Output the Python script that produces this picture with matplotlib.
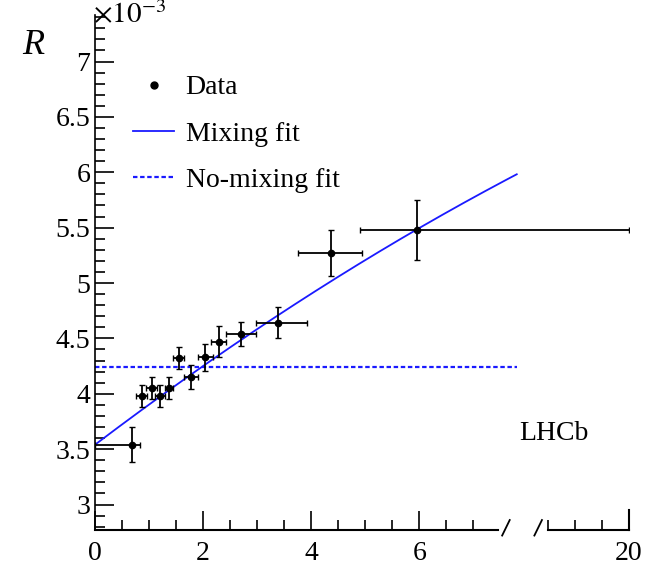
import numpy as np
import matplotlib.pyplot as plt
from matplotlib.ticker import FixedLocator
from matplotlib.lines import Line2D

plt.rcParams['font.family'] = ['Liberation Serif', 'DejaVu Serif']
plt.rcParams['mathtext.fontset'] = 'stix'

# data: decay time bins (t/tau) and ratio R (x 1e-3)
x = [0.68, 0.86, 1.05, 1.21, 1.37, 1.55, 1.77, 2.04, 2.29, 2.70, 3.38, 4.36, 5.95]
y = [3.54, 3.98, 4.05, 3.98, 4.05, 4.32, 4.15, 4.33, 4.47, 4.54, 4.64, 5.27, 5.48]
xlo = [0.68, 0.10, 0.10, 0.10, 0.08, 0.10, 0.12, 0.14, 0.14, 0.28, 0.40, 0.60, 1.05]
xhi = [0.15, 0.10, 0.10, 0.08, 0.08, 0.10, 0.14, 0.14, 0.14, 0.28, 0.55, 0.58, 14.05]
yerr = [0.16, 0.10, 0.10, 0.10, 0.10, 0.10, 0.11, 0.12, 0.14, 0.11, 0.14, 0.21, 0.27]
mix_coef = [3.54, 0.37, -0.0073]
nomix = 4.24
fit_end = 7.8

# broken axis mapping: [0, 7.45] shown as is, gap, then [18.5, 20]
L, G, R0 = 7.45, 0.926, 18.5
def tx(v):
    v = np.asarray(v, dtype=float)
    return np.where(v <= L, v, np.where(v >= R0, L + G + (v - R0), L + (v - L) * G / (R0 - L)))

fig = plt.figure(figsize=(6.47, 5.72), dpi=100)
ax = fig.add_axes([95/647, 1 - 530/572, 534/647, 515/572])

xs = np.linspace(0, fit_end, 200)
fit = mix_coef[0] + mix_coef[1]*xs + mix_coef[2]*xs**2
ax.plot(xs, fit, color='#1a1aff', lw=1.3)
ax.plot([0, fit_end], [nomix, nomix], color='#1a1aff', lw=1.6, ls=(0, (2, 1.2)))

xa = np.array(x)
left = xa - tx(xa - np.array(xlo))
right = tx(xa + np.array(xhi)) - xa
ax.errorbar(x, y, xerr=[left, right], yerr=yerr, fmt='o', color='black', ms=4.5,
            lw=1.3, capsize=2.5)

ax.set_xlim(0, float(tx(20)))
ax.set_ylim(2.77, 7.42)
ax.xaxis.set_major_locator(FixedLocator(tx([0, 2, 4, 6, 20])))
ax.set_xticklabels(['0', '2', '4', '6', '20'])
ax.xaxis.set_minor_locator(FixedLocator(tx([0.5*i for i in range(15)] + [18.5, 19, 19.5])))
ax.set_yticks([3, 3.5, 4, 4.5, 5, 5.5, 6, 6.5, 7])
ax.set_yticklabels(['3', '3.5', '4', '4.5', '5', '5.5', '6', '6.5', '7'])
ax.set_yticks(np.arange(2.8, 7.41, 0.1), minor=True)
ax.tick_params(which='both', direction='in', labelsize=20, top=False, right=False)
ax.tick_params(which='major', length=14, width=1.2)
ax.tick_params(which='minor', length=7, width=1.2)
ax.tick_params(axis='x', which='major', pad=8)
for s in ax.spines.values():
    s.set_linewidth(1.2)
ax.spines['top'].set_visible(False)
ax.spines['right'].set_visible(False)
ax.spines['bottom'].set_visible(False)
# bottom axis with a break
xe = float(tx(20))
ax.plot([0, L], [2.77, 2.77], color='black', lw=1.5, clip_on=False)
ax.plot([L + G, xe], [2.77, 2.77], color='black', lw=1.5, clip_on=False)
for sx in [L + 0.15, L + G - 0.18]:
    ax.plot([sx - 0.07, sx + 0.07], [2.72, 2.86], color='black', lw=1.3, clip_on=False)
ax.plot([xe, xe], [2.77, 2.95], color='black', lw=1.5, clip_on=False)

fig.text(22/647, 1 - 45/572, 'R', fontsize=26, ha='left', va='center', style='italic')
fig.text(93/647, 1 - 1/572, r'$\times10^{-3}$', fontsize=21, ha='left', va='top')
ax.text(7.85, 3.58, 'LHCb', fontsize=20)

handles = [Line2D([], [], marker='o', ls='none', color='black', ms=5),
           Line2D([], [], color='#1a1aff', lw=1.3),
           Line2D([], [], color='#1a1aff', lw=1.6, ls=(0, (2, 1.2)))]
ax.legend(handles, ['Data', 'Mixing fit', 'No-mixing fit'], loc='upper left',
          bbox_to_anchor=(0.05, 0.905), frameon=False, fontsize=20, handlelength=1.5,
          handletextpad=0.4, labelspacing=0.75, borderaxespad=0)

fig.savefig('out.png', dpi=100)
